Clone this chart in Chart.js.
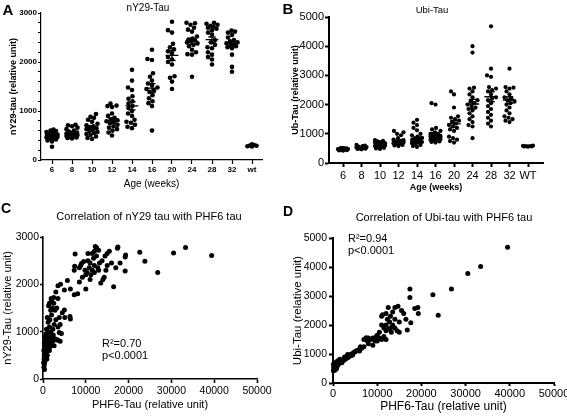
<!DOCTYPE html>
<html>
<head>
<meta charset="utf-8">
<script src="https://cdn.jsdelivr.net/npm/chart.js@4.4.1/dist/chart.umd.min.js"></script>
<style>
  body { margin: 0; width: 567px; height: 418px; overflow: hidden; background: #fff; position: relative;
         font-family: "Liberation Sans", Arial, sans-serif; color: #000; }
  canvas { position: absolute; }
  .t { position: absolute; white-space: nowrap; line-height: 1; transform: translate(-50%, -50%); }
  .note { position: absolute; white-space: nowrap; font-size: 11px; line-height: 12px; }
</style>
</head>
<body>
<canvas id="chartA" width="280" height="200" style="left:0;top:0"></canvas>
<canvas id="chartB" width="284" height="200" style="left:283px;top:0"></canvas>
<canvas id="chartC" width="283" height="218" style="left:0;top:200px"></canvas>
<canvas id="chartD" width="300" height="218" style="left:283px;top:200px"></canvas>

<div class="t" style="left:8px;top:9px;font-size:15px;font-weight:bold">A</div>
<div class="t" style="left:288px;top:8px;font-size:15px;font-weight:bold">B</div>
<div class="t" style="left:6px;top:208px;font-size:14px;font-weight:bold">C</div>
<div class="t" style="left:288px;top:211px;font-size:14px;font-weight:bold">D</div>
<div class="t" style="left:148px;top:8px;font-size:10px">nY29-Tau</div>
<div class="t" style="left:432px;top:10px;font-size:9.5px">Ubi-Tau</div>
<div class="t" style="left:149px;top:216px;font-size:11px">Correlation of nY29 tau with PHF6 tau</div>
<div class="t" style="left:444px;top:217px;font-size:11px">Correlation of Ubi-tau with PHF6 tau</div>
<div class="note" style="left:102px;top:337px">R²=0.70<br>p&lt;0.0001</div>
<div class="note" style="left:348px;top:232px">R²=0.94<br>p&lt;0.0001</div>

<script>
// age groups (weeks)
const ageLabelsA = ['6', '8', '10', '12', '14', '16', '20', '24', '28', '32', 'wt'];
const ageLabelsB = ['6', '8', '10', '12', '14', '16', '20', '24', '28', '32', 'WT'];

// panel A: nY29-tau per animal, one list per age group
const nY29Groups = [
    [620, 600, 590, 570, 550, 530, 520, 510, 500, 490, 480, 470, 460, 450, 440, 420, 400, 380, 270],
    [720, 710, 690, 660, 630, 600, 580, 560, 550, 540, 530, 520, 510, 500, 490, 480, 470, 460, 450, 440],
    [940, 880, 860, 820, 780, 740, 710, 690, 670, 650, 630, 610, 590, 570, 550, 530, 510, 480, 450, 430],
    [1150, 1110, 1100, 1080, 950, 900, 860, 830, 810, 790, 770, 750, 720, 690, 660, 630, 600, 560, 500],
    [1840, 1620, 1480, 1430, 1300, 1250, 1200, 1150, 1100, 1060, 1000, 950, 900, 820, 780, 760, 720, 680, 650],
    [2250, 2060, 2040, 1770, 1700, 1620, 1560, 1520, 1480, 1450, 1420, 1390, 1320, 1260, 1200, 1160, 1100, 600],
    [2820, 2650, 2600, 2370, 2300, 2260, 2220, 2180, 2100, 2050, 2000, 1950, 1710, 1680, 1600, 1450],
    [2800, 2790, 2760, 2700, 2660, 2620, 2520, 2480, 2460, 2440, 2420, 2400, 2380, 2350, 2320, 2250, 2200, 2160, 2150, 1700],
    [2800, 2780, 2760, 2740, 2720, 2700, 2680, 2650, 2600, 2560, 2450, 2400, 2350, 2300, 2280, 2200, 2150, 2100, 2050, 1950],
    [2640, 2620, 2600, 2550, 2500, 2450, 2420, 2400, 2380, 2360, 2340, 2320, 2300, 2280, 2150, 1900, 1800],
    [318, 305, 295, 290, 282, 275],
];
const nY29Mean = [490, 545, 650, 805, 1105, 1465, 2135, 2420, 2455, 2385, 293];
const nY29Sem = [22, 20, 35, 45, 80, 95, 100, 60, 55, 55, 8];

// panel B: Ubi-tau per animal
const ubiGroups = [
    [520, 510, 500, 490, 480, 475, 470, 460, 450, 440, 430, 420],
    [620, 600, 580, 560, 545, 530, 520, 510, 500, 490, 480, 470],
    [780, 760, 740, 720, 700, 680, 660, 640, 620, 600, 580, 560, 540, 520, 500, 480],
    [1100, 1050, 1000, 950, 850, 800, 780, 760, 740, 720, 700, 680, 660, 640, 620, 600, 580],
    [1480, 1380, 1300, 1200, 1120, 1000, 950, 900, 860, 830, 800, 780, 760, 740, 720, 700, 680, 650, 620, 580, 550],
    [2050, 2000, 1200, 1150, 1100, 1050, 1000, 980, 960, 940, 920, 900, 880, 860, 840, 820, 800, 780, 760, 740, 720, 700],
    [2450, 2350, 1900, 1600, 1550, 1500, 1450, 1400, 1350, 1300, 1250, 1200, 1150, 1100, 900, 850, 800, 750, 700],
    [4000, 3780, 2580, 2550, 2450, 2350, 2250, 2150, 2100, 2050, 2000, 1950, 1900, 1850, 1800, 1700, 1600, 1500, 1400, 1300, 1250, 850],
    [4680, 3230, 3000, 2950, 2600, 2550, 2500, 2450, 2350, 2250, 2200, 2150, 2050, 1950, 1850, 1750, 1650, 1550, 1450, 1350, 1250],
    [3230, 2600, 2580, 2550, 2450, 2350, 2250, 2200, 2150, 2100, 2050, 2000, 1900, 1800, 1700, 1600, 1550, 1500, 1450, 1400],
    [600, 590, 580, 575, 570, 565, 560],
];
const ubiMean = [490, 534, 602, 740, 840, 966, 1340, 2020, 2270, 2160, 585];
const ubiSem = [10, 12, 20, 35, 50, 70, 110, 160, 170, 110, 8];

// panel C: [PHF6-tau, nY29-tau]
const corrC = [
    [200, 250], [300, 300], [400, 350], [250, 420], [500, 400], [600, 450], [300, 500], [700, 520], [500, 550],
    [800, 480], [1000, 500], [200, 600], [600, 620], [900, 580], [1100, 650], [400, 680], [700, 700], [1200, 620],
    [1500, 600], [300, 750], [800, 760], [1000, 720], [1300, 700], [1600, 680], [500, 800], [900, 820], [1200, 780],
    [1800, 750], [2000, 700], [600, 880], [1000, 900], [1400, 850], [1700, 820], [2200, 800], [2500, 820], [700, 950],
    [1100, 960], [1500, 920], [2000, 880], [2800, 850], [3300, 830], [1200, 1000], [1800, 980], [3500, 820],
    [4000, 800], [4300, 960], [3800, 980], [2400, 930], [150, 350], [350, 200], [1300, 870], [900, 420], [2600, 700],
    [450, 900],
    [800, 1050], [1000, 1300], [1500, 1100], [2000, 1350], [3000, 1250], [3500, 1100], [4000, 1150], [5000, 1460],
    [5100, 1300], [6400, 1270], [6300, 1320], [1500, 1600], [2000, 1650], [2500, 1720], [2500, 1600], [3000, 1840],
    [3500, 1700], [3500, 1970], [4100, 2000], [5000, 1880], [5700, 2080], [6400, 1900], [1200, 1200], [1800, 1450],
    [2200, 1500], [2800, 1450], [3200, 1500], [1600, 1250], [2600, 1150], [1300, 1550], [4500, 1400], [3800, 1300],
    [2300, 1050], [1900, 1700],
    [7300, 1780], [8100, 1800], [8500, 2050], [7300, 2300], [7400, 2380], [7500, 2640], [8500, 2350], [8800, 2400],
    [9000, 2440], [9500, 2480], [10000, 1900], [10500, 2650], [10300, 2250], [10800, 2350], [11000, 2450],
    [11200, 2200], [11500, 2300], [11800, 2550], [12000, 2400], [12200, 2800], [12500, 2780], [12500, 2600],
    [12800, 2350], [13000, 2720], [13200, 2450], [13500, 2030], [13800, 2500], [14000, 2100], [14300, 2150],
    [14700, 2300], [15000, 2650], [15500, 2700], [16500, 1950], [17000, 2350], [17400, 2760], [17500, 2790],
    [18000, 2450], [19200, 2580], [19300, 2620], [19200, 2280], [9800, 2300], [10000, 2200], [11000, 2100],
    [12000, 2250], [13000, 2300], [9200, 2150], [16000, 2450], [15000, 2400], [10500, 2500], [11500, 2650],
    [14500, 2600], [12000, 2700],
    [22600, 2680], [23800, 2490], [26800, 2250], [30500, 2660], [33300, 2780], [39400, 2610],
];

// panel D: [PHF6-tau, Ubi-tau]
const corrD = [
    [100, 420], [200, 480], [300, 450], [400, 520], [500, 550], [600, 500], [700, 580], [800, 600], [900, 560],
    [1000, 640], [1100, 620], [1200, 660], [1300, 700], [1400, 680], [1500, 720], [1600, 700], [1700, 740],
    [1800, 760], [1900, 720], [2000, 780], [2200, 800], [2400, 780], [2500, 820], [2700, 850], [2900, 830],
    [3000, 870], [3200, 900], [3400, 880], [3500, 920], [3700, 950], [3900, 930], [4000, 980], [4200, 1000],
    [4400, 960], [4500, 1020], [4700, 1050], [5000, 1080], [5200, 1100], [5500, 1120], [5800, 1150], [6000, 1100],
    [300, 600], [600, 680], [1000, 760], [1500, 820], [150, 550], [800, 500], [2000, 700], [2600, 900], [3300, 980],
    [100, 650], [400, 700], [500, 450],
    [6200, 1250], [6500, 1200], [7000, 1500], [7000, 1250], [7500, 1560], [8000, 1350], [8500, 1500], [9000, 1300],
    [9500, 1450], [10000, 1650], [10500, 1750], [11000, 2300], [11200, 2350], [11000, 2000], [11500, 1600],
    [11000, 1500], [12000, 1800], [12000, 1500], [9000, 1550], [8000, 1550], [10000, 1450], [10500, 1550],
    [11500, 1900], [7800, 1450], [9800, 1600],
    [12500, 2600], [12000, 2400], [12300, 2200], [12800, 2100], [13000, 1900], [13500, 2000], [14000, 2600],
    [14700, 2650], [15500, 2500], [14500, 1800], [15000, 1750], [14000, 1900], [16500, 2200], [16800, 1830],
    [17600, 2080], [17400, 3240], [17400, 2950], [18500, 2570], [19200, 2600], [19300, 2400], [13000, 2300],
    [12000, 2000], [13500, 2450], [14000, 2200], [15000, 2100], [16000, 2400], [12500, 1850], [13200, 1750],
    [22600, 3040], [23800, 2340], [26800, 3240], [30500, 3780], [33400, 4020], [39500, 4680],
];

Chart.defaults.font.family = '"Liberation Sans", Arial, sans-serif';
Chart.defaults.color = '#000';

// spread dots of one group sideways so they don't sit on top of each other
function swarm(vals, pxX, pxY, d, half) {
    const order = vals.map((v, i) => i).sort((a, b) => vals[a] - vals[b]);
    const placed = [];
    const offs = [];
    for (const i of order) {
        const y = vals[i] * pxY;
        let best = 0, bestScore = -Infinity;
        for (let c = -half; c <= half + 1e-9; c += 0.5) {
            let minD = d;
            for (const p of placed) {
                minD = Math.min(minD, Math.hypot(c - p.x, y - p.y));
            }
            const score = minD * 1000 - Math.abs(c);
            if (score > bestScore) { bestScore = score; best = c; }
        }
        placed.push({x: best, y: y});
        offs[i] = best / pxX;
    }
    return offs;
}

function groupPoints(groups, pxX, pxY, d, half) {
    const pts = [];
    groups.forEach((g, i) => {
        const offs = swarm(g, pxX, pxY, d, half);
        g.forEach((v, j) => pts.push({x: i + offs[j], y: v}));
    });
    return pts;
}

function meanSem(means, sems, wMean, wCap) {
    const pts = [];
    means.forEach((m, i) => {
        const s = sems[i];
        pts.push({x: i - wMean, y: m}, {x: i + wMean, y: m}, {x: i, y: null},
                 {x: i, y: m - s}, {x: i, y: m + s}, {x: i, y: null},
                 {x: i - wCap, y: m + s}, {x: i + wCap, y: m + s}, {x: i, y: null},
                 {x: i - wCap, y: m - s}, {x: i + wCap, y: m - s}, {x: i, y: null});
    });
    return pts;
}

function axis(o) {
    return {
        type: 'linear',
        min: o.min,
        max: o.max,
        border: {color: '#000', width: o.lw},
        grid: {drawOnChartArea: false, tickLength: o.tl, tickColor: '#000', tickWidth: o.lw},
        ticks: {
            color: '#000', font: o.font, padding: o.pad, maxRotation: 0, autoSkip: false,
            stepSize: o.step, callback: o.cb || (v => String(v)),
        },
        title: {display: true, text: o.title, color: '#000', font: o.tfont, padding: o.tpad},
        afterFit: o.fit,
        afterBuildTicks: o.abt,
    };
}

function baseOptions(padding, x, y) {
    return {
        responsive: false,
        devicePixelRatio: 1,
        animation: false,
        events: [],
        layout: {padding: padding},
        plugins: {legend: {display: false}, tooltip: {enabled: false}},
        scales: {x: x, y: y},
    };
}

// A
new Chart(document.getElementById('chartA'), {
    type: 'scatter',
    data: {
        datasets: [
            {data: groupPoints(nY29Groups, 20, 147 / 3000, 4.4, 5.5), pointRadius: 2.3,
             backgroundColor: '#000', borderWidth: 0, clip: false},
            {data: meanSem(nY29Mean, nY29Sem, 0.32, 0.18), showLine: true, pointRadius: 0,
             borderColor: '#000', borderWidth: 1.3, clip: false},
        ],
    },
    options: baseOptions({left: 0, top: 13, right: 18, bottom: 10},
        axis({min: -0.55, max: 10.5, lw: 1.2, tl: 4, pad: 1, font: {size: 8, weight: 'bold'},
              title: 'Age (weeks)', tfont: {size: 10}, tpad: {top: 0, bottom: 0},
              fit: s => { s.height = 30; },
              abt: s => { s.ticks = ageLabelsA.map((_, i) => ({value: i})); },
              cb: v => ageLabelsA[v]}),
        axis({min: 0, max: 3000, step: 200, lw: 1.2, tl: 3, pad: 1, font: {size: 8, weight: 'bold'},
              title: 'nY29-tau (relative unit)', tfont: {size: 9, weight: 'bold'}, tpad: {top: 8, bottom: 0},
              fit: s => { s.width = 41; },
              cb: v => (v % 1000 === 0 ? String(v) : '')})),
});

// B
new Chart(document.getElementById('chartB'), {
    type: 'scatter',
    data: {
        datasets: [
            {data: groupPoints(ubiGroups, 18.5, 146 / 5000, 4.0, 5), pointRadius: 2.1,
             backgroundColor: '#000', borderWidth: 0, clip: false},
            {data: meanSem(ubiMean, ubiSem, 0.36, 0.2), showLine: true, pointRadius: 0,
             borderColor: '#000', borderWidth: 1.4, clip: false},
        ],
    },
    options: baseOptions({left: 0, top: 17, right: 24, bottom: 7},
        axis({min: -0.757, max: 10.81, lw: 2, tl: 4, pad: 2, font: {size: 11},
              title: 'Age (weeks)', tfont: {size: 9, weight: 'bold'}, tpad: {top: 0, bottom: 0},
              fit: s => { s.height = 30; },
              abt: s => { s.ticks = ageLabelsB.map((_, i) => ({value: i})); },
              cb: v => ageLabelsB[v]}),
        axis({min: 0, max: 5000, step: 1000, lw: 2, tl: 4, pad: 1, font: {size: 11},
              title: 'Ub-Tau (relative unit)', tfont: {size: 9, weight: 'bold'}, tpad: {top: 7, bottom: 0},
              fit: s => { s.width = 46; }})),
});

// C
new Chart(document.getElementById('chartC'), {
    type: 'scatter',
    data: {
        datasets: [
            {data: corrC.map(p => ({x: p[0], y: p[1]})), pointRadius: 2.5,
             backgroundColor: '#000', borderWidth: 0, clip: false},
        ],
    },
    options: baseOptions({left: 0, top: 37, right: 26, bottom: 6},
        axis({min: 0, max: 50000, step: 10000, lw: 1.6, tl: 4, pad: 2, font: {size: 10.5},
              title: 'PHF6-Tau (relative unit)', tfont: {size: 11}, tpad: {top: 0, bottom: 0},
              fit: s => { s.height = 33; }}),
        axis({min: 0, max: 3000, step: 1000, lw: 1.6, tl: 3, pad: 1, font: {size: 10.5},
              title: 'nY29-Tau (relative unit)', tfont: {size: 11}, tpad: {top: 1, bottom: 0},
              fit: s => { s.width = 43; }})),
});

// D
new Chart(document.getElementById('chartD'), {
    type: 'scatter',
    data: {
        datasets: [
            {data: corrD.map(p => ({x: p[0], y: p[1]})), pointRadius: 2.5,
             backgroundColor: '#000', borderWidth: 0, clip: false},
        ],
    },
    options: baseOptions({left: 0, top: 38, right: 29, bottom: 4},
        axis({min: 0, max: 50000, step: 10000, lw: 2, tl: 3, pad: 1, font: {size: 11},
              title: 'PHF6-Tau (relative unit)', tfont: {size: 12}, tpad: {top: 0, bottom: 0},
              fit: s => { s.height = 31; }}),
        axis({min: 0, max: 5000, step: 1000, lw: 2, tl: 4, pad: 2, font: {size: 10.5},
              title: 'Ubi-Tau (relative unit)', tfont: {size: 11.5}, tpad: {top: 8, bottom: 0},
              fit: s => { s.width = 50; }})),
});
</script>
</body>
</html>
